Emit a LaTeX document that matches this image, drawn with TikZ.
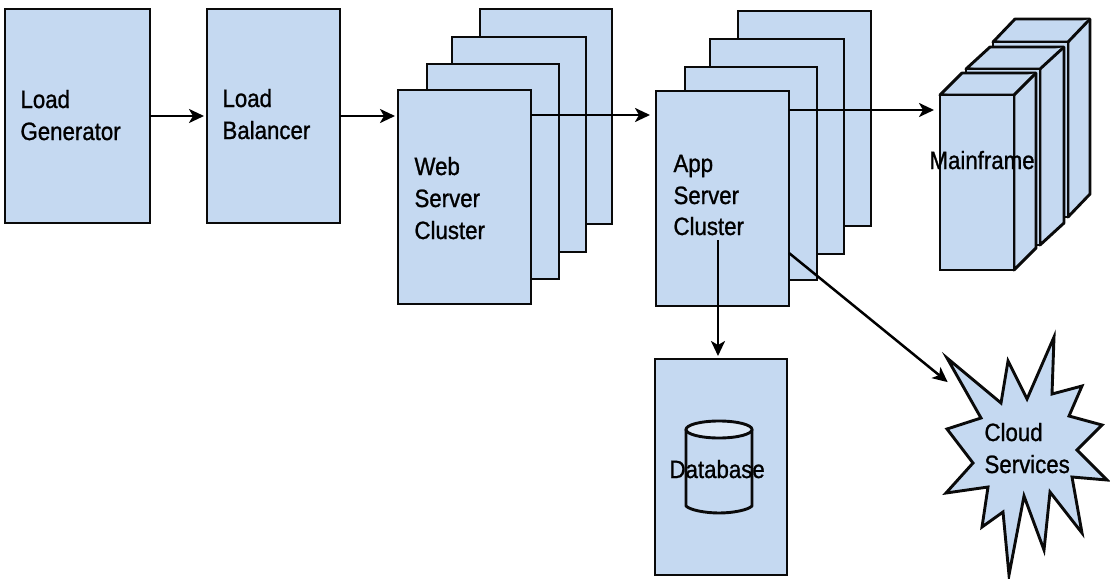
\documentclass[tikz,border=0pt]{standalone}
\usepackage{fontspec}
\setmainfont[FakeStretch=0.89,FakeBold=1]{Liberation Sans}
\usetikzlibrary{arrows.meta}
\definecolor{boxblue}{HTML}{C5D9F1}
\definecolor{lidblue}{HTML}{DCE8F6}
\definecolor{inkline}{HTML}{0A0A0A}
\tikzset{
  boxn/.style={draw=inkline,fill=boxblue,line width=2.9pt,inner sep=0pt,outer sep=0pt,anchor=north west,line join=miter},
  solid3d/.style={draw=inkline,fill=boxblue,line width=2.9pt,line join=round},
  lbl/.style={anchor=base west,inner sep=0pt,outer sep=0pt,font=\fontsize{25}{25}\selectfont,text=black},
  conn/.style={draw=black,line width=2.5pt,-{Stealth[length=15pt,width=14pt,inset=4pt]},shorten >=3pt}
}
\newcommand{\cuboid}[7]{% x0,y0,x1,y1,dx,dy
  \path[solid3d] (#1,#2) -- (#1+#5,#2-#6) -- (#3+#5,#2-#6) -- (#3+#5,#4-#6) -- (#3,#4) -- (#3,#2) -- cycle;
  \path[solid3d] (#1,#2) -- (#3,#2) -- (#3+#5,#2-#6);
  \node[boxn,minimum width={(#3-#1)*1pt},minimum height={(#4-#2)*1pt}] (#7) at (#1,#2) {};
}
\begin{document}
\begin{tikzpicture}[x=1pt,y=-1pt]
\useasboundingbox (0,0) rectangle (1110,578);
% load generator, balancer
\node[boxn,minimum width=145pt,minimum height=214pt] (gen) at (5,9) {};
\node[boxn,minimum width=133pt,minimum height=214pt] (bal) at (207,9) {};
% web stack
\node[boxn,minimum width=132pt,minimum height=215pt] (web4) at (480,9) {};
\node[boxn,minimum width=134pt,minimum height=215pt] (web3) at (452,37) {};
\node[boxn,minimum width=132pt,minimum height=215pt] (web2) at (427,64) {};
\node[boxn,minimum width=133pt,minimum height=214pt] (web) at (398,90) {};
% app stack
\node[boxn,minimum width=133pt,minimum height=215pt] (app4) at (738,11) {};
\node[boxn,minimum width=134pt,minimum height=215pt] (app3) at (710,39) {};
\node[boxn,minimum width=132pt,minimum height=213pt] (app2) at (685,67) {};
\node[boxn,minimum width=133pt,minimum height=215pt] (app) at (656,91) {};
% database
\node[boxn,minimum width=132pt,minimum height=216pt] (db) at (655,359) {};
\path[solid3d] (686,429.5) -- (686,506) .. controls (690,510) and (705,513) .. (719,513) .. controls (733,513) and (748,510) .. (752,506) -- (752,429.5) -- cycle;
\path[solid3d,fill=lidblue] (719,429.5) ellipse[x radius=33,y radius=8.5];
% mainframe
\cuboid{993}{42}{1068}{217}{22}{23}{mf3}
\cuboid{966}{69}{1040}{245}{24}{22}{mf2}
\cuboid{940}{95}{1014}{270}{22}{22}{mf}
% cloud
\path[solid3d,line join=miter,miter limit=20] (947,358) -- (1001,403) -- (1008,361) -- (1027,399) -- (1054,337) -- (1052,394) -- (1082,386) -- (1069,416) -- (1102,425) -- (1077,450) -- (1107,480) -- (1072,477) -- (1082,533) -- (1050,492) -- (1044,550) -- (1024,496) -- (1009,575) -- (1003,512) -- (982,527) -- (988,487) -- (946,493) -- (973,463) -- (947,429) -- (981,418) -- cycle;
% connector ends
\coordinate (webout) at (531,115);
\coordinate (appout) at (789,110);
\coordinate (mfin) at (937,110);
\coordinate (appdown) at (718,240);
\coordinate (appdiag) at (789,253);
\coordinate (cloudin) at (950,384);
\draw[conn] (gen.east) -- (bal.west);
\draw[conn] (bal.east) -- (bal.east -| web.west);
\draw[conn,shorten >=6pt] (webout) -- (webout -| app.west);
\draw[conn] (appout) -- (mfin);
\draw[conn] (appdown) -- (db.north -| appdown);
\draw[conn] (appdiag) -- (cloudin);
% labels
\node[lbl] (t1) at (20.5,108) {Load};
\node[lbl] (t2) at (20.5,140) {Generator};
\node[lbl] (t3) at (222.5,107) {Load};
\node[lbl] (t4) at (222.5,139) {Balancer};
\node[lbl] (t5) at (414.5,175) {Web};
\node[lbl] (t6) at (414.5,207) {Server};
\node[lbl] (t7) at (414.5,239) {Cluster};
\node[lbl] (t8) at (673.5,172) {App};
\node[lbl] (t9) at (673.5,204) {Server};
\node[lbl] (t10) at (673.5,235) {Cluster};
\node[lbl] (t11) at (929.5,169) {Mainframe};
\node[lbl] (t12) at (669.5,478) {Database};
\node[lbl] (t13) at (984.5,441) {Cloud};
\node[lbl] (t14) at (984.5,473) {Services};
\end{tikzpicture}
\end{document}
